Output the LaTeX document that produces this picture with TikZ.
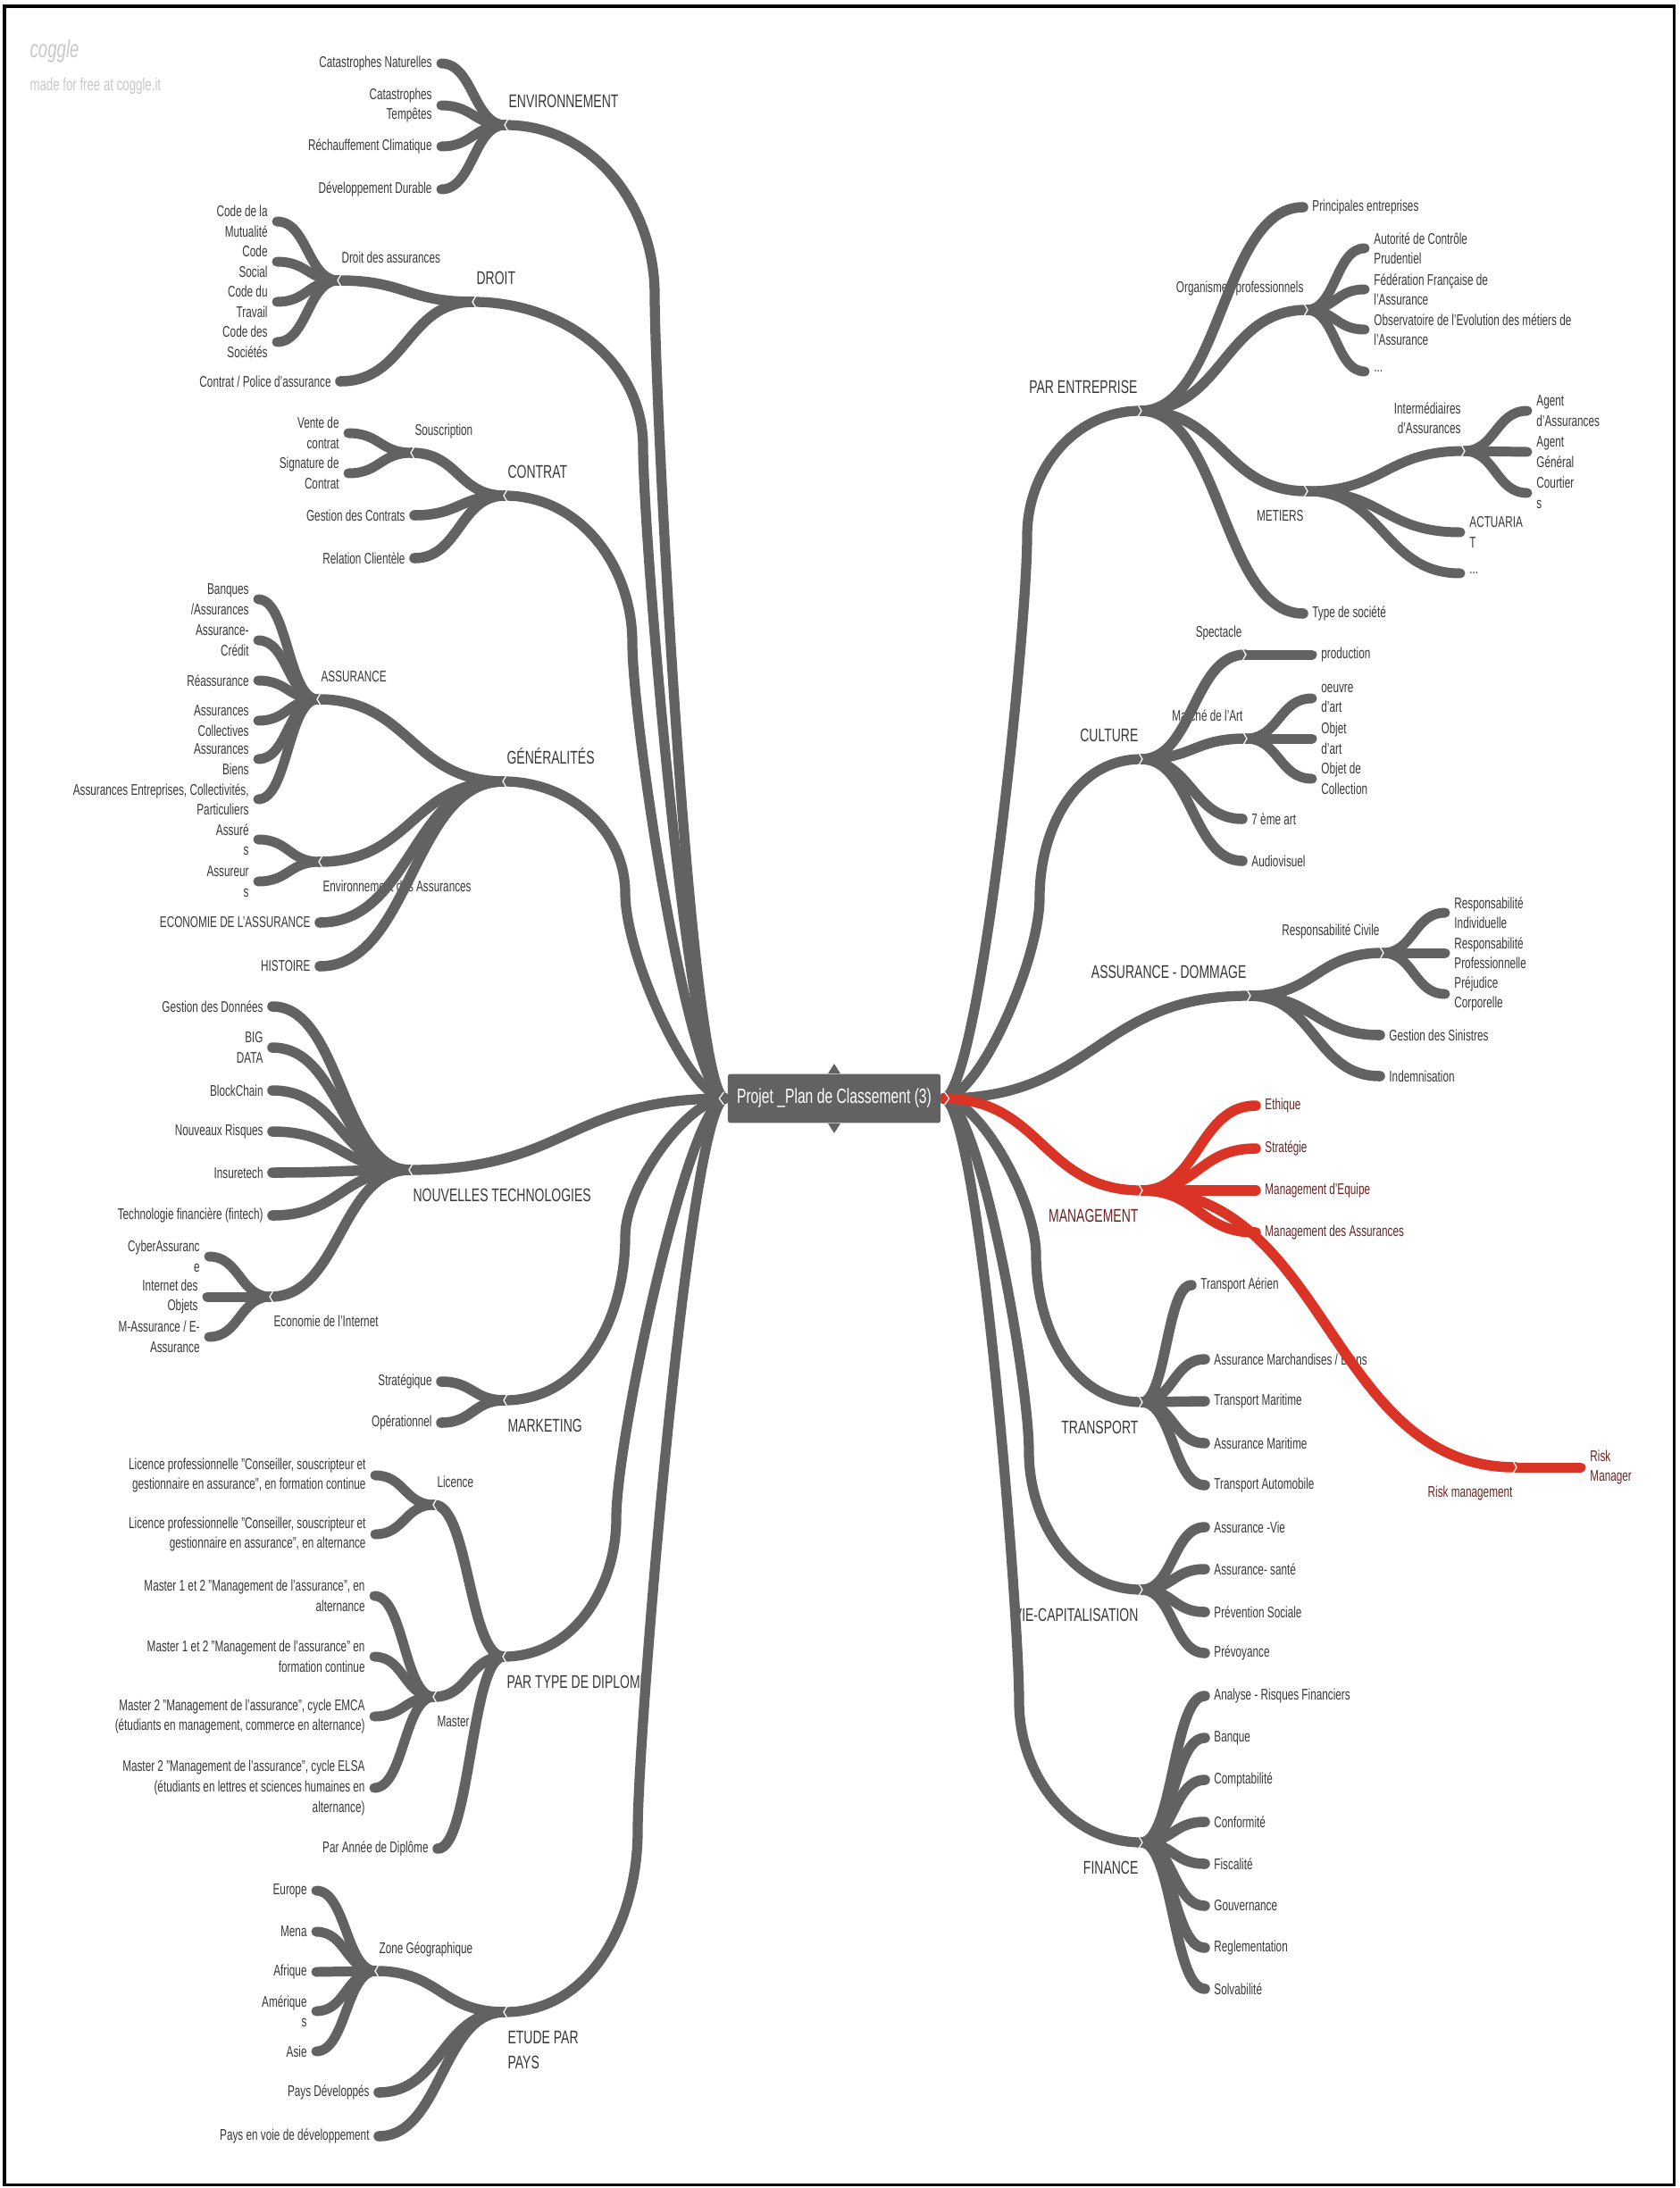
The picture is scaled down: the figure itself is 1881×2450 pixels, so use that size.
\documentclass[tikz,border=0pt]{standalone}
\usepackage{fontspec}
\setmainfont{Liberation Sans}[FakeStretch=0.68]
\usepackage{xcolor}
\usetikzlibrary{calc}

\definecolor{brgray}{RGB}{98,98,98}
\definecolor{txtgray}{RGB}{56,56,56}
\definecolor{brred}{RGB}{218,52,38}
\definecolor{txtred}{RGB}{105,35,35}
\definecolor{logogray}{RGB}{200,200,200}

\newcommand{\mmsmall}{\fontsize{6.3}{8.2}\selectfont}
\newcommand{\mmbig}{\fontsize{7.5}{10.2}\selectfont}
\newcommand{\mmroot}{\fontsize{8.4}{10}\selectfont}

\tikzset{
  sbend/.style={to path={let \p1=(\tikztostart), \p2=(\tikztotarget) in
      .. controls ({0.5*\x1+0.5*\x2},\y1) and ({0.5*\x1+0.5*\x2},\y2) .. (\tikztotarget)}},
  br1/.style={draw=brgray, line width=4.1pt, line cap=round},
  br2/.style={draw=brgray, line width=4.2pt, line cap=round},
  br3/.style={draw=brgray, line width=4.0pt, line cap=round},
  lbl/.style={font=\mmsmall, text=txtgray, inner sep=0pt},
  lvlone/.style={font=\mmbig},
  leafL/.style={lbl, anchor=east, align=right, inner xsep=3.6pt},
  leafR/.style={lbl, anchor=west, align=left, inner xsep=3.6pt},
  upL/.style={lbl, anchor=south west, align=left, text depth=0pt, xshift=1.1pt, yshift=6.9pt},
  upR/.style={lbl, anchor=south east, align=right, text depth=0pt, xshift=-1.1pt, yshift=6.9pt},
  downL/.style={lbl, anchor=north west, align=left, xshift=1.1pt, yshift=-7.6pt},
  downR/.style={lbl, anchor=north east, align=right, xshift=-1.1pt, yshift=-7.6pt},
  notch/.style={draw=white, line width=0.45pt},
  rootbox/.style={fill=brgray, text=white, font=\mmroot, inner sep=0pt,
      minimum width=3.05cm, minimum height=0.70cm, rounded corners=1pt},
  logo/.style={text=logogray, inner sep=0pt, anchor=west},
}

\begin{document}
\begin{tikzpicture}[x=0.0128cm, y=0.0128cm]
  \useasboundingbox (0,0) rectangle (1881,-2450);
  \draw[line width=1.1pt] (5,-7) rectangle (1874,-2446);

  % coggle mark
  \node[logo, font=\itshape\fontsize{10}{10}\selectfont] (logo) at (33,-57) {coggle};
  \node[logo, font=\fontsize{7.1}{8}\selectfont] (logotxt) at (33,-96) {made for free at coggle.it};

  % start points beside the central box
  \coordinate (cL) at (812,-1230);
  \coordinate (cR) at (1056,-1230);

  % ---------------- left side ----------------
  % ENVIRONNEMENT
  \coordinate (envP) at (566,-140);
  \node[upL, lvlone] (env) at (envP) {ENVIRONNEMENT};
  \node[leafL] (env1) at (494,-71) {Catastrophes Naturelles};
  \node[leafL] (env2) at (494,-118) {Catastrophes\\Tempêtes};
  \node[leafL] (env3) at (494,-164) {Réchauffement Climatique};
  \node[leafL] (env4) at (494,-212) {Développement Durable};

  % DROIT
  \coordinate (drP) at (530,-338);
  \node[upL, lvlone] (dr) at (drP) {DROIT};
  \coordinate (dasP) at (379,-314);
  \node[upL] (das) at (dasP) {Droit des assurances};
  \node[leafL] (das1) at (310,-248) {Code de la\\Mutualité};
  \node[leafL] (das2) at (310,-293) {Code\\Social};
  \node[leafL] (das3) at (310,-338) {Code du\\Travail};
  \node[leafL] (das4) at (310,-383) {Code des\\Sociétés};
  \node[leafL] (dr2) at (381,-427) {Contrat / Police d'assurance};

  % CONTRAT
  \coordinate (ctP) at (565,-555);
  \node[upL, lvlone] (ct) at (ctP) {CONTRAT};
  \coordinate (souP) at (461,-507);
  \node[upL] (sou) at (souP) {Souscription};
  \node[leafL] (sou1) at (390,-485) {Vente de\\contrat};
  \node[leafL] (sou2) at (390,-530) {Signature de\\Contrat};
  \node[leafL] (ct2) at (464,-577) {Gestion des Contrats};
  \node[leafL] (ct3) at (464,-625) {Relation Clientèle};

  % GENERALITES
  \coordinate (genP) at (564,-875);
  \node[upL, lvlone] (gen) at (genP) {GÉNÉRALITÉS};
  \coordinate (asP) at (356,-783);
  \node[upL] (as) at (asP) {ASSURANCE};
  \node[leafL] (as1) at (289,-671) {Banques\\/Assurances};
  \node[leafL] (as2) at (289,-717) {Assurance-\\Crédit};
  \node[leafL] (as3) at (289,-762) {Réassurance};
  \node[leafL] (as4) at (289,-807) {Assurances\\Collectives};
  \node[leafL] (as5) at (289,-850) {Assurances\\Biens};
  \node[leafL] (as6) at (289,-895) {Assurances Entreprises, Collectivités,\\Particuliers};
  \coordinate (eaP) at (358,-965);
  \node[downL] (ea) at (eaP) {Environnement des Assurances};
  \node[leafL] (ea1) at (289,-940) {Assuré\\s};
  \node[leafL] (ea2) at (289,-987) {Assureur\\s};
  \node[leafL] (gen3) at (358,-1033) {ECONOMIE DE L'ASSURANCE};
  \node[leafL] (gen4) at (358,-1082) {HISTOIRE};

  % NOUVELLES TECHNOLOGIES
  \coordinate (ntP) at (459,-1310);
  \node[downL, lvlone] (nt) at (ntP) {NOUVELLES TECHNOLOGIES};
  \node[leafL] (nt1) at (305,-1127) {Gestion des Données};
  \node[leafL] (nt2) at (305,-1173) {BIG\\DATA};
  \node[leafL] (nt3) at (305,-1221) {BlockChain};
  \node[leafL] (nt4) at (305,-1267) {Nouveaux Risques};
  \node[leafL] (nt5) at (305,-1313) {Insuretech};
  \node[leafL] (nt6) at (305,-1361) {Technologie financière (fintech)};
  \coordinate (eiP) at (303,-1452);
  \node[downL] (ei) at (eiP) {Economie de l'Internet};
  \node[leafL] (ei1) at (234,-1407) {CyberAssuranc\\e};
  \node[leafL] (ei2) at (232,-1452) {Internet des\\Objets};
  \node[leafL] (ei3) at (234,-1497) {M-Assurance / E-\\Assurance};

  % MARKETING
  \coordinate (mkP) at (565,-1568);
  \node[downL, lvlone] (mk) at (mkP) {MARKETING};
  \node[leafL] (mk1) at (494,-1547) {Stratégique};
  \node[leafL] (mk2) at (494,-1593) {Opérationnel};

  % PAR TYPE DE DIPLOME
  \coordinate (tdP) at (564,-1855);
  \node[downL, lvlone] (td) at (tdP) {PAR TYPE DE DIPLOME};
  \coordinate (liP) at (486,-1685);
  \node[upL] (li) at (liP) {Licence};
  \node[leafL] (li1) at (420,-1652) {Licence professionnelle "Conseiller, souscripteur et\\gestionnaire en assurance", en formation continue};
  \node[leafL] (li2) at (420,-1718) {Licence professionnelle "Conseiller, souscripteur et\\gestionnaire en assurance", en alternance};
  \coordinate (maP) at (486,-1900);
  \node[downL] (ma) at (maP) {Master};
  \node[leafL] (ma1) at (419,-1787) {Master 1 et 2 "Management de l'assurance", en\\alternance};
  \node[leafL] (ma2) at (419,-1855) {Master 1 et 2 "Management de l'assurance" en\\formation continue};
  \node[leafL] (ma3) at (419,-1922) {Master 2 "Management de l'assurance", cycle EMCA\\(étudiants en management, commerce en alternance)};
  \node[leafL] (ma4) at (419,-2002) {Master 2 "Management de l'assurance", cycle ELSA\\(étudiants en lettres et sciences humaines en\\alternance)};
  \node[leafL] (td3) at (490,-2070) {Par Année de Diplôme};

  % ETUDE PAR PAYS
  \coordinate (epP) at (565,-2253);
  \node[downL, lvlone] (ep) at (epP) {ETUDE PAR\\PAYS};
  \coordinate (zgP) at (421,-2207);
  \node[upL] (zg) at (zgP) {Zone Géographique};
  \node[leafL] (zg1) at (354,-2117) {Europe};
  \node[leafL] (zg2) at (354,-2163) {Mena};
  \node[leafL] (zg3) at (354,-2208) {Afrique};
  \node[leafL] (zg4) at (354,-2252) {Amérique\\s};
  \node[leafL] (zg5) at (354,-2297) {Asie};
  \node[leafL] (ep2) at (424,-2343) {Pays Développés};
  \node[leafL] (ep3) at (424,-2392) {Pays en voie de développement};

  % ---------------- right side ----------------
  % PAR ENTREPRISE
  \coordinate (peP) at (1277,-460);
  \node[upR, lvlone] (pe) at (peP) {PAR ENTREPRISE};
  \node[leafR] (pe1) at (1459,-232) {Principales entreprises};
  \coordinate (opP) at (1463,-347);
  \node[upR] (op) at (opP) {Organismes professionnels};
  \node[leafR] (op1) at (1528,-278) {Autorité de Contrôle\\Prudentiel};
  \node[leafR] (op2) at (1528,-324) {Fédération Française de\\l'Assurance};
  \node[leafR] (op3) at (1528,-369) {Observatoire de l'Evolution des métiers de\\l'Assurance};
  \node[leafR] (op4) at (1528,-416) {...};
  \coordinate (meP) at (1463,-550);
  \node[downR] (me) at (meP) {METIERS};
  \coordinate (imP) at (1639,-505);
  \node[upR] (im) at (imP) {Intermédiaires\\d'Assurances};
  \node[leafR] (im1) at (1710,-460) {Agent\\d'Assurances};
  \node[leafR] (im2) at (1710,-506) {Agent\\Général};
  \node[leafR] (im3) at (1710,-552) {Courtier\\s};
  \node[leafR] (me2) at (1635,-596) {ACTUARIA\\T};
  \node[leafR] (me3) at (1635,-642) {...};
  \node[leafR] (pe4) at (1459,-687) {Type de société};

  % CULTURE
  \coordinate (cuP) at (1278,-850);
  \node[upR, lvlone] (cu) at (cuP) {CULTURE};
  \coordinate (spP) at (1394,-733);
  \node[upR] (sp) at (spP) {Spectacle};
  \node[leafR] (sp1) at (1469,-733) {production};
  \coordinate (arP) at (1395,-827);
  \node[upR] (ar) at (arP) {Marché de l'Art};
  \node[leafR] (ar1) at (1469,-782) {oeuvre\\d'art};
  \node[leafR] (ar2) at (1469,-827) {Objet\\d'art};
  \node[leafR] (ar3) at (1469,-872) {Objet de\\Collection};
  \node[leafR] (cu3) at (1391,-917) {7 ème art};
  \node[leafR] (cu4) at (1391,-964) {Audiovisuel};

  % ASSURANCE - DOMMAGE
  \coordinate (adP) at (1399,-1115);
  \node[upR, lvlone] (ad) at (adP) {ASSURANCE - DOMMAGE};
  \coordinate (rcP) at (1548,-1067);
  \node[upR] (rc) at (rcP) {Responsabilité Civile};
  \node[leafR] (rc1) at (1618,-1022) {Responsabilité\\Individuelle};
  \node[leafR] (rc2) at (1618,-1067) {Responsabilité\\Professionnelle};
  \node[leafR] (rc3) at (1618,-1113) {Préjudice\\Corporelle};
  \node[leafR] (ad2) at (1545,-1159) {Gestion des Sinistres};
  \node[leafR] (ad3) at (1545,-1205) {Indemnisation};

  % MANAGEMENT (red)
  \coordinate (mgP) at (1278,-1333);
  \node[downR, lvlone, text=txtred] (mg) at (mgP) {MANAGEMENT};
  \node[leafR, text=txtred] (mg1) at (1406,-1238) {Ethique};
  \node[leafR, text=txtred] (mg2) at (1406,-1286) {Stratégie};
  \node[leafR, text=txtred] (mg3) at (1406,-1333) {Management d'Equipe};
  \node[leafR, text=txtred] (mg4) at (1406,-1380) {Management des Assurances};
  \coordinate (rmP) at (1697,-1643);
  \node[downR, text=txtred] (rm) at (rmP) {Risk management};
  \node[leafR, text=txtred] (rm1) at (1770,-1643) {Risk\\Manager};

  % TRANSPORT
  \coordinate (trP) at (1278,-1570);
  \node[downR, lvlone] (tr) at (trP) {TRANSPORT};
  \node[leafR] (tr1) at (1334,-1439) {Transport Aérien};
  \node[leafR] (tr2) at (1349,-1522) {Assurance Marchandises / Biens};
  \node[leafR] (tr3) at (1349,-1569) {Transport Maritime};
  \node[leafR] (tr4) at (1349,-1616) {Assurance Maritime};
  \node[leafR] (tr5) at (1349,-1663) {Transport Automobile};

  % VIE-CAPITALISATION
  \coordinate (viP) at (1278,-1780);
  \node[downR, lvlone] (vi) at (viP) {VIE-CAPITALISATION};
  \node[leafR] (vi1) at (1349,-1710) {Assurance -Vie};
  \node[leafR] (vi2) at (1349,-1757) {Assurance- santé};
  \node[leafR] (vi3) at (1349,-1805) {Prévention Sociale};
  \node[leafR] (vi4) at (1349,-1851) {Prévoyance};

  % FINANCE
  \coordinate (fiP) at (1278,-2063);
  \node[downR, lvlone] (fi) at (fiP) {FINANCE};
  \node[leafR] (fi1) at (1349,-1899) {Analyse - Risques Financiers};
  \node[leafR] (fi2) at (1349,-1946) {Banque};
  \node[leafR] (fi3) at (1349,-1993) {Comptabilité};
  \node[leafR] (fi4) at (1349,-2040) {Conformité};
  \node[leafR] (fi5) at (1349,-2087) {Fiscalité};
  \node[leafR] (fi6) at (1349,-2134) {Gouvernance};
  \node[leafR] (fi7) at (1349,-2181) {Reglementation};
  \node[leafR] (fi8) at (1349,-2227) {Solvabilité};

  % ---------------- main branches ----------------
  \draw[br1] (cL) .. controls +(-40,0) and +(0,-110) .. (733,-330) to[out=90,in=0] (envP);
  \draw[br1] (cL) .. controls +(-40,0) and +(0,-100) .. (720,-500) to[out=90,in=0] (drP);
  \draw[br1] (cL) .. controls +(-40,0) and +(0,-90) .. (708,-720) to[out=90,in=0] (ctP);
  \draw[br1] (cL) .. controls +(-40,0) and +(0,-70) .. (700,-1000) to[out=90,in=0] (genP);
  \draw[br1] (cL) to[sbend] (ntP);
  \draw[br1] (cL) .. controls +(-40,0) and +(0,60) .. (700,-1385) to[out=-90,in=0] (mkP);
  \draw[br1] (cL) .. controls +(-40,0) and +(0,90) .. (690,-1700) to[out=-90,in=0] (tdP);
  \draw[br1] (cL) .. controls +(-40,0) and +(0,110) .. (714,-2050) to[out=-90,in=0] (epP);

  \draw[br1] (cR) .. controls +(40,0) and +(0,-110) .. (1150,-600) to[out=90,in=180] (peP);
  \draw[br1] (cR) .. controls +(40,0) and +(0,-70) .. (1164,-1005) to[out=90,in=180] (cuP);
  \draw[br1] (cR) to[sbend] (adP);
  \draw[br1] (cR) .. controls +(40,0) and +(0,60) .. (1160,-1405) to[out=-90,in=180] (trP);
  \draw[br1] (cR) .. controls +(40,0) and +(0,80) .. (1152,-1625) to[out=-90,in=180] (viP);
  \draw[br1] (cR) .. controls +(40,0) and +(0,100) .. (1141,-1905) to[out=-90,in=180] (fiP);

  % ---------------- sub branches, left ----------------
  \foreach \nd in {env1,env2,env3,env4} \draw[br3] (envP) to[sbend] (\nd.east);
  \draw[br2] (drP) to[sbend] (dasP);
  \draw[br2] (drP) to[sbend] (dr2.east);
  \foreach \nd in {das1,das2,das3,das4} \draw[br3] (dasP) to[sbend] (\nd.east);
  \draw[br2] (ctP) to[sbend] (souP);
  \foreach \nd in {ct2,ct3} \draw[br2] (ctP) to[sbend] (\nd.east);
  \foreach \nd in {sou1,sou2} \draw[br3] (souP) to[sbend] (\nd.east);
  \draw[br2] (genP) to[sbend] (asP);
  \draw[br2] (genP) to[sbend] (eaP);
  \foreach \nd in {gen3,gen4} \draw[br2] (genP) to[sbend] (\nd.east);
  \foreach \nd in {as1,as2,as3,as4,as5,as6} \draw[br3] (asP) to[sbend] (\nd.east);
  \foreach \nd in {ea1,ea2} \draw[br3] (eaP) to[sbend] (\nd.east);
  \foreach \nd in {nt1,nt2,nt3,nt4,nt5,nt6} \draw[br2] (ntP) to[sbend] (\nd.east);
  \draw[br2] (ntP) to[sbend] (eiP);
  \foreach \nd in {ei1,ei2,ei3} \draw[br3] (eiP) to[sbend] (\nd.east);
  \foreach \nd in {mk1,mk2} \draw[br2] (mkP) to[sbend] (\nd.east);
  \draw[br2] (tdP) to[sbend] (liP);
  \draw[br2] (tdP) to[sbend] (maP);
  \draw[br2] (tdP) to[sbend] (td3.east);
  \foreach \nd in {li1,li2} \draw[br3] (liP) to[sbend] (\nd.east);
  \foreach \nd in {ma1,ma2,ma3,ma4} \draw[br3] (maP) to[sbend] (\nd.east);
  \draw[br2] (epP) to[sbend] (zgP);
  \foreach \nd in {ep2,ep3} \draw[br2] (epP) to[sbend] (\nd.east);
  \foreach \nd in {zg1,zg2,zg3,zg4,zg5} \draw[br3] (zgP) to[sbend] (\nd.east);

  % ---------------- sub branches, right ----------------
  \draw[br2] (peP) to[sbend] (pe1.west);
  \draw[br2] (peP) to[sbend] (opP);
  \draw[br2] (peP) to[sbend] (meP);
  \draw[br2] (peP) to[sbend] (pe4.west);
  \foreach \nd in {op1,op2,op3,op4} \draw[br3] (opP) to[sbend] (\nd.west);
  \draw[br3] (meP) to[sbend] (imP);
  \foreach \nd in {me2,me3} \draw[br3] (meP) to[sbend] (\nd.west);
  \foreach \nd in {im1,im2,im3} \draw[br3] (imP) to[sbend] (\nd.west);
  \draw[br2] (cuP) to[sbend] (spP);
  \draw[br2] (cuP) to[sbend] (arP);
  \foreach \nd in {cu3,cu4} \draw[br2] (cuP) to[sbend] (\nd.west);
  \draw[br3] (spP) to[sbend] (sp1.west);
  \foreach \nd in {ar1,ar2,ar3} \draw[br3] (arP) to[sbend] (\nd.west);
  \draw[br2] (adP) to[sbend] (rcP);
  \foreach \nd in {ad2,ad3} \draw[br2] (adP) to[sbend] (\nd.west);
  \foreach \nd in {rc1,rc2,rc3} \draw[br3] (rcP) to[sbend] (\nd.west);
  \foreach \nd in {tr1,tr2,tr3,tr4,tr5} \draw[br2] (trP) to[sbend] (\nd.west);
  \foreach \nd in {vi1,vi2,vi3,vi4} \draw[br2] (viP) to[sbend] (\nd.west);
  \foreach \nd in {fi1,fi2,fi3,fi4,fi5,fi6,fi7,fi8} \draw[br2] (fiP) to[sbend] (\nd.west);

  % red MANAGEMENT branch on top
  \draw[br1, draw=brred] (cR) to[sbend] (mgP);
  \foreach \nd in {mg1,mg2,mg3,mg4} \draw[br2, draw=brred] (mgP) to[sbend] (\nd.west);
  \draw[br2, draw=brred] (mgP) to[sbend] (rmP);
  \draw[br3, draw=brred] (rmP) to[sbend] (rm1.west);

  % small notches where a branch splits
  \foreach \p in {envP,drP,dasP,ctP,souP,genP,asP,eaP,ntP,eiP,mkP,tdP,liP,maP,epP,zgP}
    \draw[notch] ($(\p)+(3,7)$) -- ($(\p)+(-1,0)$) -- ($(\p)+(3,-7)$);
  \foreach \p in {peP,opP,meP,imP,cuP,spP,arP,adP,rcP,mgP,rmP,trP,viP,fiP}
    \draw[notch] ($(\p)+(-3,7)$) -- ($(\p)+(1,0)$) -- ($(\p)+(-3,-7)$);

  % central topic
  \node[rootbox] (root) at (934,-1230) {Projet \_Plan de Classement (3)};
  \fill[brgray] ($(root.north)+(-7,0)$) -- ($(root.north)+(0,11)$) -- ($(root.north)+(7,0)$) -- cycle;
  \fill[brgray] ($(root.south)+(-7,0)$) -- ($(root.south)+(0,-11)$) -- ($(root.south)+(7,0)$) -- cycle;
  \draw[notch] ($(root.west)+(-4,7)$) -- ($(root.west)+(-9,0)$) -- ($(root.west)+(-4,-7)$);
  \draw[notch] ($(root.east)+(4,7)$) -- ($(root.east)+(9,0)$) -- ($(root.east)+(4,-7)$);
\end{tikzpicture}
\end{document}
